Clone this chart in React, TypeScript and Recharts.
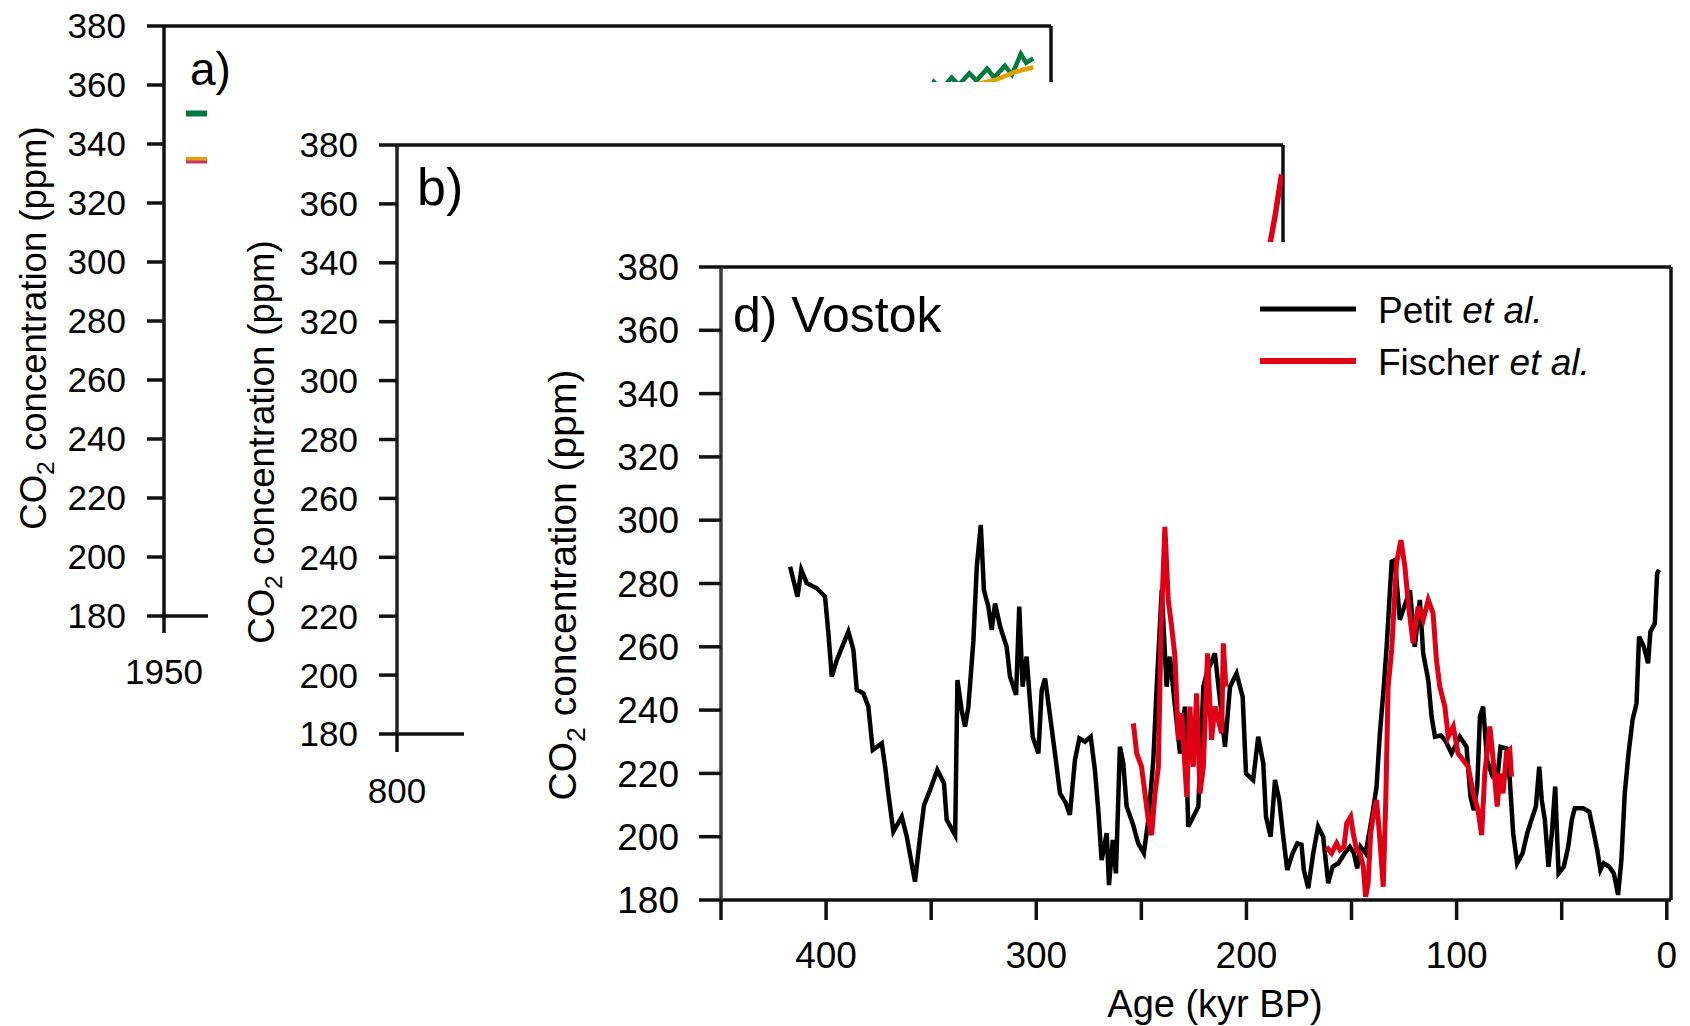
import React from 'react'
import { LineChart, Line, XAxis, YAxis, ReferenceLine, Legend } from 'recharts'

const FONT = '"Liberation Sans", Arial, Helvetica, sans-serif'

// a) direct measurements
const maunaLoaYear = [1958.5, 1960, 1965, 1970, 1975, 1980, 1985, 1990, 1991.4, 1991.8, 1992.4, 1992.8, 1993.4, 1993.8, 1994.4, 1994.8, 1995.4, 1995.8, 1996.4, 1996.8, 1997.4, 1997.8, 1998.3, 1998.6, 1999.0]
const maunaLoaCO2 = [315.5, 316.9, 320.0, 325.7, 331.1, 338.7, 346.1, 354.4, 358.0, 352.0, 359.0, 353.0, 361.0, 358.5, 362.5, 360.0, 364.0, 361.5, 365.5, 362.5, 366.5, 363.5, 370.5, 367.5, 369.0]
const southPoleYear = [1957.5, 1960, 1965, 1970, 1975, 1980, 1985, 1990, 1992, 1994, 1995, 1996, 1997, 1998, 1999]
const southPoleCO2 = [314.0, 315.5, 318.5, 323.5, 329.0, 336.5, 343.5, 351.5, 354.0, 356.5, 358.5, 360.5, 362.0, 364.5, 366.0]

// b) last millennium
const lawDomeYear = [1006, 1100, 1200, 1300, 1400, 1500, 1600, 1650, 1700, 1750, 1800, 1850, 1900, 1925, 1950, 1960, 1970, 1980, 1990, 1998]
const lawDomeCO2 = [279, 282, 283, 282, 280, 281, 277, 276, 277, 278, 283, 286, 296, 304, 311, 317, 325, 343, 357, 370]

// d) Vostok
const petitAge = [
  417.1, 413.6, 411.8, 409.2, 404.4, 400.5, 398.9, 397.3, 394.9, 389.4,
  387.0, 385.4, 382.3, 379.9, 377.8, 373.5, 371.9, 370.4, 368.0, 364.0,
  361.6, 357.7, 355.3, 353.4, 350.5, 347.1, 343.9, 342.6, 338.6, 337.5,
  335.5, 333.9, 332.3, 329.9, 328.3, 326.4, 324.9, 322.8, 321.2, 319.6,
  317.2, 314.1, 312.5, 309.6, 308.1, 306.5, 304.6, 301.7, 299.0, 297.4,
  295.8, 293.8, 291.1, 288.7, 285.9, 284.0, 281.6, 279.5, 276.8, 274.1,
  272.1, 270.5, 268.9, 266.5, 265.4, 263.6, 262.1, 260.2, 258.6, 257.0,
  254.1, 251.5, 248.8, 246.7, 244.3, 242.7, 240.3, 238.0, 236.4, 234.0,
  231.6, 229.3, 227.7, 225.3, 222.9, 220.5, 218.9, 215.0, 210.2, 207.8,
  204.7, 201.8, 200.2, 196.8, 194.4, 192.0, 190.7, 188.5, 186.4, 184.4,
  182.5, 180.6, 178.0, 175.8, 173.8, 172.7, 170.6, 168.2, 165.9, 163.5,
  161.1, 159.0, 156.3, 153.2, 150.8, 148.9, 147.3, 145.7, 143.3, 141.6,
  140.0, 138.1, 136.5, 134.9, 133.3, 130.9, 129.4, 127.0, 122.2, 119.9,
  117.5, 115.9, 113.5, 111.9, 110.3, 107.6, 105.6, 102.4, 98.5, 95.3,
  93.4, 91.8, 90.2, 88.9, 87.4, 85.5, 82.9, 80.7, 79.1, 76.3,
  74.7, 73.1, 71.2, 68.6, 66.4, 64.4, 62.3, 60.7, 59.5, 58.0,
  56.3, 54.7, 53.1, 51.5, 49.0, 46.9, 45.2, 43.8, 39.8, 36.9,
  34.7, 33.1, 31.6, 30.0, 27.4, 25.2, 23.2, 21.6, 20.0, 18.2,
  16.3, 14.4, 13.2, 10.9, 8.9, 7.8, 5.7, 4.6, 3.7,
]
const petitCO2 = [
  285.3, 275.8, 284.3, 280.1, 278.5, 275.8, 264.3, 250.6, 255.8, 264.8,
  259.0, 246.4, 245.3, 241.1, 227.4, 229.5, 222.1, 213.7, 201.6, 206.3,
  200.0, 185.8, 200.0, 210.0, 214.8, 221.1, 216.9, 205.3, 200.5, 249.5,
  240.0, 234.8, 241.1, 262.1, 285.3, 298.5, 277.9, 272.7, 265.3, 273.7,
  266.4, 260.0, 250.6, 244.8, 272.7, 247.4, 256.9, 231.6, 226.3, 246.4,
  250.0, 240.0, 226.3, 213.7, 210.6, 206.9, 224.2, 231.1, 230.0, 231.6,
  221.1, 208.4, 192.6, 201.1, 184.7, 199.0, 188.4, 228.4, 223.2, 209.5,
  204.2, 197.9, 194.8, 205.3, 224.2, 247.4, 277.9, 247.4, 256.9, 241.1,
  226.3, 241.1, 203.2, 206.3, 209.5, 247.4, 251.6, 257.9, 228.4, 247.4,
  251.6, 244.2, 220.0, 217.9, 231.6, 223.2, 206.3, 200.0, 217.9, 211.6,
  200.0, 189.5, 194.8, 197.9, 197.5, 189.5, 183.7, 194.8, 203.2, 200.0,
  185.3, 190.5, 191.6, 194.8, 196.8, 194.8, 190.0, 196.8, 194.8, 201.1,
  207.4, 215.8, 232.7, 245.3, 260.0, 286.9, 287.4, 268.5, 277.9, 260.0,
  274.8, 257.9, 249.5, 237.9, 231.6, 232.0, 230.6, 226.3, 231.6, 228.4,
  212.6, 208.4, 215.8, 237.9, 241.1, 224.2, 219.0, 217.9, 228.4, 227.9,
  217.9, 201.1, 191.6, 194.8, 201.1, 205.3, 209.5, 222.1, 211.6, 205.3,
  190.5, 201.1, 215.8, 188.4, 190.5, 196.8, 205.3, 209.0, 209.0, 207.9,
  201.1, 195.8, 189.5, 191.6, 190.5, 188.4, 181.6, 192.6, 213.7, 226.3,
  236.9, 242.1, 263.2, 260.0, 254.8, 264.8, 267.4, 283.2, 284.3,
]
const fischerAge = [
  253.8, 252.2, 249.9, 248.3, 246.7, 245.1, 243.5, 241.9, 240.7, 238.8,
  237.2, 235.6, 234.0, 232.4, 230.8, 228.4, 226.9, 225.3, 223.7, 222.1,
  220.5, 218.5, 216.6, 215.0, 213.4, 211.8, 211.0, 209.8, 185.0, 161.9,
  159.5, 157.1, 155.5, 153.6, 152.3, 150.4, 149.2, 147.6, 146.0, 144.4,
  143.3, 142.1, 140.9, 139.7, 138.1, 136.5, 134.9, 133.7, 132.6, 130.9,
  128.6, 126.5, 124.6, 123.0, 120.7, 118.3, 115.9, 113.5, 111.2, 109.6,
  108.0, 105.6, 104.0, 101.6, 99.3, 96.9, 94.5, 92.1, 89.8, 88.1,
  86.6, 84.2, 82.6, 80.7, 79.4, 77.9, 76.3, 74.7, 73.9,
]
const fischerCO2 = [
  235.8, 226.3, 222.1, 213.7, 205.3, 200.5, 213.7, 222.1, 264.3, 297.9,
  274.8, 266.4, 256.9, 230.6, 239.0, 212.6, 241.1, 222.1, 245.3, 213.7,
  222.1, 257.9, 230.6, 241.1, 236.9, 232.7, 261.1, 247.4, null, 196.8,
  194.8, 197.9, 195.8, 196.8, 204.2, 206.3, 201.1, 195.8, 194.8, 190.5,
  181.0, 185.3, 201.1, 206.3, 211.6, 199.0, 184.2, 211.6, 247.4, 259.0,
  286.4, 293.7, 285.3, 273.7, 261.1, 272.7, 268.5, 274.8, 270.6, 255.8,
  247.4, 241.1, 231.6, 234.8, 226.3, 224.2, 222.1, 213.7, 208.4, 200.5,
  220.0, 234.8, 224.2, 209.5, 220.0, 213.7, 226.3, 227.4, 219.0,
]

const ppmTicks = [180, 200, 220, 240, 260, 280, 300, 320, 340, 360, 380]
const yearTicksA = [1950, 1960, 1970, 1980, 1990, 2000]
const yearTicksB = [800, 1000, 1200, 1400, 1600, 1800, 2000]
const ageTicks = [450, 400, 350, 300, 250, 200, 150, 100, 50, 0]

const zip = (xs: number[], ys: (number | null)[]) => xs.map((x, i) => ({ x, y: ys[i] }))

const maunaLoa = zip(maunaLoaYear, maunaLoaCO2)
const southPole = zip(southPoleYear, southPoleCO2)
const lawDome = zip(lawDomeYear, lawDomeCO2)
const petit = zip(petitAge, petitCO2)
const fischer = zip(fischerAge, fischerCO2)

const tickStyle = (size: number) => ({ fontSize: size, fill: '#000', fontFamily: FONT })
const lineStyle = (color: string) => ({ stroke: color, strokeWidth: 3.5 })
// only the first tick label of a covered panel is visible
const firstOnly = (first: number) => (v: number) => (v === first ? String(v) : '')

const Card = ({ left, top, width, height, children }: any) => (
  <div style={{ position: 'absolute', left, top, width, height, background: '#fff' }}>{children}</div>
)

const Overlay = ({ width, height, children }: any) => (
  <svg width={width} height={height} style={{ position: 'absolute', left: 0, top: 0, pointerEvents: 'none' }}>
    {children}
  </svg>
)

const CO2Title = ({ x, y, size }: { x: number; y: number; size: number }) => (
  <text transform={`translate(${x},${y}) rotate(-90)`} textAnchor="middle" fontSize={size} fontFamily={FONT} fill="#000">
    CO<tspan fontSize={size * 0.68} dy={size * 0.22}>2</tspan>
    <tspan dy={-size * 0.22}>{' concentration (ppm)'}</tspan>
  </text>
)

const legendOrder = ['Petit et al.', 'Fischer et al.']

const VostokLegend = (props: any) => {
  const items = [...(props.payload || [])].sort(
    (a: any, b: any) => legendOrder.indexOf(a.value) - legendOrder.indexOf(b.value)
  )
  return (
    <svg width={440} height={110}>
      {items.map((it: any, i: number) => {
        const y = 29 + i * 52
        const name = String(it.value).replace(' et al.', '')
        return (
          <g key={it.value}>
            <line x1={4} x2={100} y1={y} y2={y} stroke={it.color} strokeWidth={i === 0 ? 5 : 6} />
            <text x={122} y={y + 14} fontSize={37} fontFamily={FONT} fill="#000">
              {name + ' '}
              <tspan fontStyle="italic">et al.</tspan>
            </text>
          </g>
        )
      })}
    </svg>
  )
}

// swatches only: the names sit under panel b
const DirectLegend = (props: any) => {
  const items = props.payload || []
  return (
    <svg width={40} height={80}>
      {items.map((it: any, i: number) => {
        const y = 13.5 + i * 45.5
        return (
          <g key={it.value}>
            <line x1={6} x2={27} y1={y} y2={y} stroke={it.color} strokeWidth={i === 0 ? 6 : 4} />
            {i === 1 && <line x1={6} x2={27} y1={y + 3} y2={y + 3} stroke="#c8336a" strokeWidth={3} />}
          </g>
        )
      })}
    </svg>
  )
}

const PanelA = () => (
  <Card left={0} top={0} width={1100} height={720}>
    <LineChart width={1100} height={720} margin={{ top: 26, right: 49, bottom: 34, left: 0 }}>
      <XAxis
        dataKey="x" type="number" domain={[1950, 2000]} ticks={yearTicksA} interval={0} allowDataOverflow
        height={70} tickSize={17} tickMargin={26} tick={tickStyle(35)} tickFormatter={firstOnly(1950)}
        axisLine={lineStyle('#111')} tickLine={lineStyle('#111')}
      />
      <YAxis
        type="number" domain={[180, 380]} ticks={ppmTicks} interval={0} allowDataOverflow
        width={164} tickSize={17} tickMargin={21} tick={tickStyle(35)}
        axisLine={lineStyle('#111')} tickLine={lineStyle('#111')}
      />
      <ReferenceLine y={380} {...lineStyle('#111')} />
      <ReferenceLine x={2000} {...lineStyle('#111')} />
      <Line data={maunaLoa} dataKey="y" name="Mauna Loa" stroke="#007a3d" strokeWidth={4.5} dot={false} isAnimationActive={false} />
      <Line data={southPole} dataKey="y" name="South Pole" stroke="#e0a000" strokeWidth={4.5} dot={false} isAnimationActive={false} />
      <Legend content={DirectLegend} layout="vertical" align="center" verticalAlign="middle"
        wrapperStyle={{ left: 180, top: 100, width: 'auto', height: 'auto' }} />
    </LineChart>
    <Overlay width={1100} height={720}>
      <CO2Title x={46} y={328} size={36.5} />
    </Overlay>
  </Card>
)

const PanelB = () => (
  <Card left={208} top={82} width={1482} height={944}>
    <LineChart width={1482} height={944} margin={{ top: 63, right: 407, bottom: 222, left: 0 }}>
      <XAxis
        dataKey="x" type="number" domain={[800, 2000]} ticks={yearTicksB} interval={0} allowDataOverflow
        height={70} tickSize={18} tickMargin={26} tick={tickStyle(35)} tickFormatter={firstOnly(800)}
        axisLine={lineStyle('#111')} tickLine={lineStyle('#111')}
      />
      <YAxis
        type="number" domain={[180, 380]} ticks={ppmTicks} interval={0} allowDataOverflow
        width={189} tickSize={18} tickMargin={21} tick={tickStyle(35)}
        axisLine={lineStyle('#222')} tickLine={lineStyle('#111')}
      />
      <ReferenceLine y={380} {...lineStyle('#111')} />
      <ReferenceLine x={2000} {...lineStyle('#111')} />
      <Line data={lawDome} dataKey="y" name="Law Dome" stroke="#e00016" strokeWidth={5.5} dot={false} isAnimationActive={false} />
    </LineChart>
    <Overlay width={1482} height={944}>
      <CO2Title x={66} y={360} size={36.5} />
      <text x={209} y={123} fontSize={52} fontFamily={FONT} fill="#000">b)</text>
    </Overlay>
  </Card>
)

const PanelD = () => (
  <Card left={464} top={242} width={1226} height={784}>
    <LineChart width={1226} height={784} margin={{ top: 25, right: 19, bottom: 16, left: 0 }}>
      <XAxis
        dataKey="x" type="number" domain={[-2, 450]} reversed ticks={ageTicks} interval={0} allowDataOverflow
        height={110} tickSize={20} tickMargin={22} tick={tickStyle(37)}
        tickFormatter={(v: number) => (v % 100 === 0 ? String(v) : '')}
        axisLine={lineStyle('#111')} tickLine={lineStyle('#111')}
      />
      <YAxis
        type="number" domain={[180, 380]} ticks={ppmTicks} interval={0} allowDataOverflow
        width={257} tickSize={22} tickMargin={20} tick={tickStyle(37)}
        axisLine={lineStyle('#3a3a3a')} tickLine={lineStyle('#111')}
      />
      <ReferenceLine y={380} {...lineStyle('#111')} />
      <ReferenceLine x={-2} {...lineStyle('#111')} />
      <Line data={petit} dataKey="y" name="Petit et al." stroke="#000" strokeWidth={4.5} dot={false} isAnimationActive={false} />
      <Line data={fischer} dataKey="y" name="Fischer et al." stroke="#e00016" strokeWidth={5} dot={false} connectNulls={false} isAnimationActive={false} />
      <Legend content={VostokLegend} layout="vertical" align="center" verticalAlign="middle"
        wrapperStyle={{ left: 792, top: 38, width: 'auto', height: 'auto' }} />
    </LineChart>
    <Overlay width={1226} height={784}>
      <CO2Title x={112} y={343} size={39} />
      <text x={751} y={775} textAnchor="middle" fontSize={38} fontFamily={FONT} fill="#000">Age (kyr BP)</text>
      <text x={269} y={90} fontSize={50} fontFamily={FONT} fill="#000">d) Vostok</text>
    </Overlay>
  </Card>
)

// panel a's letter sits just above panel b's sheet
const LabelA = () => (
  <svg width={80} height={110} style={{ position: 'absolute', left: 170, top: 0, pointerEvents: 'none' }}>
    <text x={20} y={85} fontSize={46} fontFamily={FONT} fill="#000">a)</text>
  </svg>
)

const App = () => (
  <div style={{ position: 'absolute', left: 0, top: 0, width: 1690, height: 1026, background: '#fff', overflow: 'hidden' }}>
    <PanelA />
    <PanelB />
    <LabelA />
    <PanelD />
  </div>
)

export default App
